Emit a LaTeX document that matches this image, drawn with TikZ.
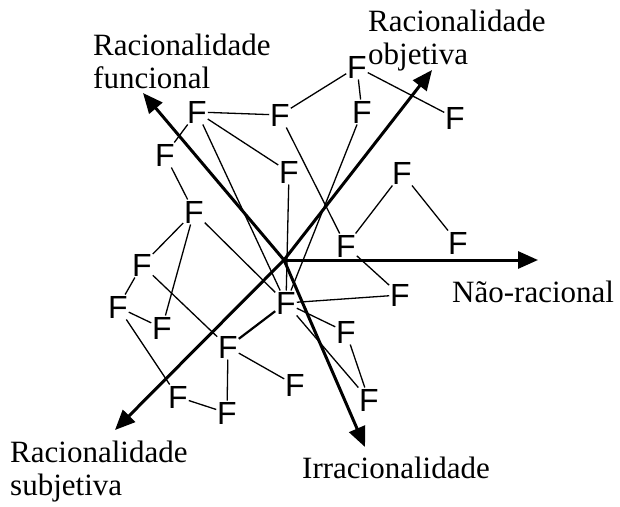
\documentclass[tikz,border=0pt]{standalone}
\usepackage{fontspec}
\setmainfont{Liberation Serif}
\newfontfamily\ffont{Liberation Sans}
\usetikzlibrary{arrows.meta}
\begin{document}
\begin{tikzpicture}[x=1pt,y=-1pt,
  fnode/.style={font=\ffont\fontsize{32}{32}\selectfont, inner sep=0.8pt, text height=23pt, text depth=0pt},
  link/.style={line width=1.3pt},
  axis/.style={line width=3pt,-{Triangle[length=20pt,width=17pt]}},
  lab/.style={font=\fontsize{31}{33}\selectfont, inner sep=0pt, align=left, anchor=base west}]
\useasboundingbox (0,0) rectangle (620,506);
% F nodes
\node[fnode] (F1) at (357,67) {F};
\node[fnode] (F2) at (362,112) {F};
\node[fnode] (F3) at (455,118) {F};
\node[fnode] (F4) at (197,112) {F};
\node[fnode] (F5) at (280,115) {F};
\node[fnode] (F6) at (165,155) {F};
\node[fnode] (F7) at (289,172) {F};
\node[fnode] (F8) at (194,212) {F};
\node[fnode] (F9) at (402,173) {F};
\node[fnode] (F10) at (346,246) {F};
\node[fnode] (F11) at (458,243) {F};
\node[fnode] (F12) at (142,265) {F};
\node[fnode] (F13) at (118,307) {F};
\node[fnode] (F14) at (162,328) {F};
\node[fnode] (F15) at (286,303) {F};
\node[fnode] (F16) at (400,295) {F};
\node[fnode] (F17) at (346,332) {F};
\node[fnode] (F18) at (228,347) {F};
\node[fnode] (F19) at (295,385) {F};
\node[fnode] (F20) at (369,400) {F};
\node[fnode] (F21) at (178,397) {F};
\node[fnode] (F22) at (227,413) {F};
% thin links
\draw[link] (F1) -- (F5);
\draw[link] (F1) -- (F2);
\draw[link] (F1) -- (F3);
\draw[link] (F4) -- (F5);
\draw[link] (F4) -- (F6);
\draw[link] (F4) -- (F7);
\draw[link] (F4) -- (F15);
\draw[link] (F5) -- (F10);
\draw[link] (F7) -- (F15);
\draw[link] (F6) -- (F8);
\draw[link] (F8) -- (F12);
\draw[link] (F8) -- (F14);
\draw[link] (F8) -- (F15);
\draw[link] (F12) -- (F13);
\draw[link] (F12) -- (F18);
\draw[link] (F13) -- (F14);
\draw[link] (F13) -- (F21);
\draw[link] (F21) -- (F22);
\draw[link] (F18) -- (F22);
\draw[link] (F18) -- (F19);
\draw[line width=2.2pt] (F18) -- (F15);
\draw[link] (F15) -- (F16);
\draw[link] (F15) -- (F17);
\draw[link] (F15) -- (F20);
\draw[link] (F17) -- (F20);
\draw[link] (F15) -- (F2);
\draw[link] (F9) -- (F10);
\draw[link] (F9) -- (F11);
\draw[link] (F10) -- (F16);
% axes
\coordinate (O) at (284,260);
\coordinate (Tfun) at (143,93);
\coordinate (Tobj) at (432,70);
\coordinate (Tnr) at (538,260);
\coordinate (Tsub) at (115,430);
\coordinate (Tirr) at (365,447);
\draw[axis] (O) -- (Tfun);
\draw[axis] (O) -- (Tobj);
\draw[axis] (O) -- (Tnr);
\draw[axis] (O) -- (Tsub);
\draw[axis] (O) -- (Tirr);
% labels (anchor = baseline of last line)
\node[lab] (Lfun) at (93,88) {Racionalidade\\funcional};
\node[lab] (Lobj) at (368,64) {Racionalidade\\objetiva};
\node[lab] (Lnr) at (452,302) {Não-racional};
\node[lab] (Lsub) at (10,495) {Racionalidade\\subjetiva};
\node[lab] (Lirr) at (302,478) {Irracionalidade};
\end{tikzpicture}
\end{document}
